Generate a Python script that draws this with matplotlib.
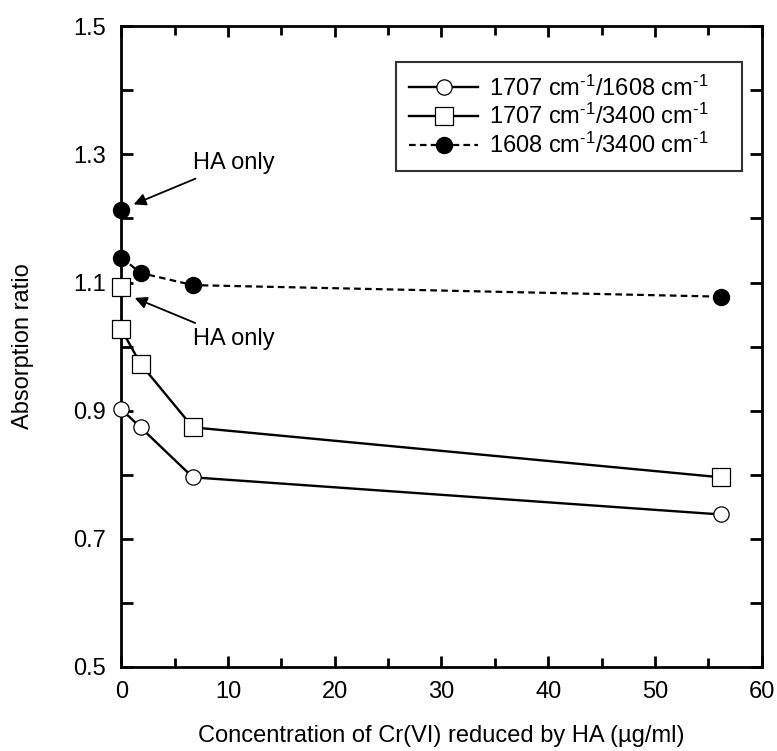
import numpy as np
import matplotlib
matplotlib.use('Agg')
import matplotlib.pyplot as plt
from matplotlib.ticker import MultipleLocator

plt.rcParams['font.family'] = ['Liberation Sans', 'DejaVu Sans']
plt.rcParams['mathtext.fontset'] = 'custom'
plt.rcParams['mathtext.rm'] = 'Liberation Sans'
plt.rcParams['mathtext.it'] = 'Liberation Sans'

# Concentration of Cr(VI) reduced by HA (ug/ml)
conc = [0, 1.8, 6.7, 56.2]

# absorption ratios
ratio_1707_1608 = [0.902, 0.874, 0.796, 0.738]
ratio_1707_3400 = [1.027, 0.973, 0.874, 0.796]
ratio_1608_3400 = [1.139, 1.115, 1.096, 1.078]

# "HA only" points
ha_only_1707_3400 = 1.093
ha_only_1608_3400 = 1.214

labels = [r'1707 cm$^{\text{-1}}$/1608 cm$^{\text{-1}}$',
          r'1707 cm$^{\text{-1}}$/3400 cm$^{\text{-1}}$',
          r'1608 cm$^{\text{-1}}$/3400 cm$^{\text{-1}}$']

fs = 17

fig = plt.figure(figsize=(7.77, 7.51), dpi=100)
ax = fig.add_axes([0.1562, 0.1119, 0.824, 0.8531])

l1, = ax.plot(conc, ratio_1707_1608, '-', color='k', lw=1.7, marker='o', ms=11,
              mfc='white', mec='k', mew=0.9, clip_on=False, zorder=3)
l2, = ax.plot(conc, ratio_1707_3400, '-', color='k', lw=1.7, marker='s', ms=12.5,
              mfc='white', mec='k', mew=0.9, clip_on=False, zorder=3)
l3, = ax.plot(conc, ratio_1608_3400, '--', color='k', lw=1.6, marker='o', ms=11.5,
              mfc='k', mec='k', dashes=(3.0, 1.9), clip_on=False, zorder=3)
ax.plot([0], [ha_only_1707_3400], 's', ms=12.5, mfc='white', mec='k', mew=0.9,
        clip_on=False, zorder=4)
ax.plot([0], [ha_only_1608_3400], 'o', ms=11.5, mfc='k', mec='k',
        clip_on=False, zorder=4)

ax.annotate('HA only', xy=(1.15, 1.222), xytext=(6.7, 1.287), fontsize=fs,
            va='center', ha='left',
            arrowprops=dict(arrowstyle='-|>', color='k', lw=1.3,
                            mutation_scale=18, shrinkA=4, shrinkB=0))
ax.annotate('HA only', xy=(1.25, 1.076), xytext=(6.7, 1.012), fontsize=fs,
            va='center', ha='left',
            arrowprops=dict(arrowstyle='-|>', color='k', lw=1.3,
                            mutation_scale=18, shrinkA=4, shrinkB=0))

ax.set_xlim(0, 60)
ax.set_ylim(0.5, 1.5)
ax.xaxis.set_major_locator(MultipleLocator(10))
ax.xaxis.set_minor_locator(MultipleLocator(5))
ax.yaxis.set_minor_locator(MultipleLocator(0.1))
ax.set_yticks(np.arange(0.5, 1.51, 0.2))
ax.set_yticklabels(['0.5', '0.7', '0.9', '1.1', '1.3', '1.5'])

for s in ax.spines.values():
    s.set_linewidth(2)
ax.tick_params(which='both', direction='in', top=True, right=True, width=2,
               labelsize=fs)
ax.tick_params(axis='x', which='major', length=8, pad=10)
ax.tick_params(axis='x', which='minor', length=6.3)
ax.tick_params(axis='y', which='both', length=8.5, pad=11)

ax.set_xlabel('Concentration of Cr(VI) reduced by HA (µg/ml)', fontsize=fs, labelpad=16)
ax.set_ylabel('Absorption ratio', fontsize=fs, labelpad=28)

leg = ax.legend([l1, l2, l3], labels, loc='upper left',
                bbox_to_anchor=(0.4296, 0.777, 0.5394, 0.1668), mode='expand',
                fontsize=fs, frameon=True, fancybox=False, edgecolor='k',
                handlelength=2.9, handletextpad=0.45, labelspacing=0.15,
                borderpad=0.55, borderaxespad=0)
leg.get_frame().set_linewidth(1.5)

fig.savefig('out.png', dpi=100)
